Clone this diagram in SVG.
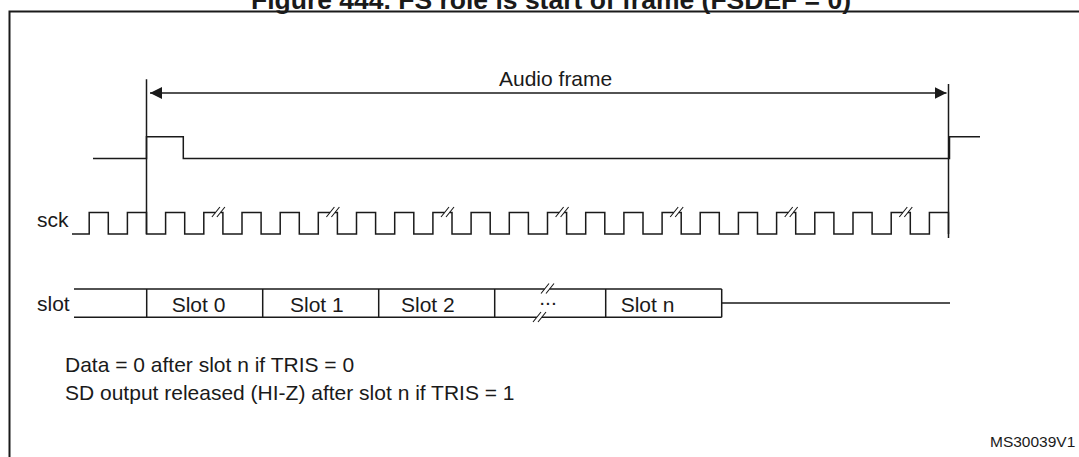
<svg xmlns="http://www.w3.org/2000/svg" width="1079" height="457" viewBox="0 0 1079 457">
<defs>
<style>
.t{font-family:"Liberation Sans",Arial,sans-serif;font-size:21px;fill:#1a1a1a}
.w{fill:none;stroke:#1a1a1a;stroke-width:1.5}
.s{fill:none;stroke:#1a1a1a;stroke-width:1.1}
</style>
<marker id="ah" viewBox="0 0 12 12" refX="12" refY="6" markerWidth="12" markerHeight="12" markerUnits="userSpaceOnUse" orient="auto-start-reverse">
<path d="M0,0 L12,6 L0,12 Z" fill="#1a1a1a"/>
</marker>
</defs>
<rect width="1079" height="457" fill="#ffffff"/>
<text x="251" y="8.5" font-family="'Liberation Sans',Arial,sans-serif" font-size="26.5" font-weight="bold" fill="#1a1a1a" textLength="600" lengthAdjust="spacingAndGlyphs">Figure 444. FS role is start of frame (FSDEF = 0)</text>
<path d="M9.5,460 V11.5 H1082" fill="none" stroke="#1a1a1a" stroke-width="2"/>

<g id="frame-markers">
<path class="w" d="M146.5,79.3 V234 M948.5,84 V238"/>
</g>
<g id="connectors">
<path class="w" d="M150,93 H946.5" marker-start="url(#ah)" marker-end="url(#ah)"/>
</g>
<g id="audio-frame-label">
<text class="t" x="499" y="86">Audio frame</text>
</g>

<g id="fs-signal">
<path class="w" d="M93,158.5 H146.5 V136.7 H183.3 V158.5 H949.5 V136.7 H980"/>
</g>

<g id="sck-signal">
<text class="t" x="37" y="227">sck</text>
<path class="w" d="M72,234 H89.2 V212.5 H108.3 V234 H127.4 V212.5 H146.5 V234 H165.6 V212.5 H184.7 V234 H203.8 V212.5 H215.5 M220.5,212.5 H222.9 V234 H242 V212.5 H261.1 V234 H280.2 V212.5 H299.3 V234 H318.3 V212.5 H330 M335,212.5 H337.4 V234 H356.5 V212.5 H375.6 V234 H394.7 V212.5 H413.8 V234 H432.9 V212.5 H444.6 M449.6,212.5 H452 V234 H471.1 V212.5 H490.2 V234 H509.3 V212.5 H528.4 V234 H547.5 V212.5 H559.2 M564.2,212.5 H566.6 V234 H585.7 V212.5 H604.8 V234 H623.9 V212.5 H643 V234 H662.1 V212.5 H673.8 M678.8,212.5 H681.2 V234 H700.2 V212.5 H719.3 V234 H738.4 V212.5 H757.5 V234 H776.6 V212.5 H788.3 M793.3,212.5 H795.7 V234 H814.8 V212.5 H833.9 V234 H853 V212.5 H872.1 V234 H891.2 V212.5 H902.9 M907.9,212.5 H910.3 V234 H929.4 V212.5 H948.5 V234"/>
<path class="s" d="M211.9,217 L219.9,207 M216.9,217 L224.9,207 M326.4,217 L334.4,207 M331.4,217 L339.4,207 M441,217 L449,207 M446,217 L454,207 M555.6,217 L563.6,207 M560.6,217 L568.6,207 M670.2,217 L678.2,207 M675.2,217 L683.2,207 M784.7,217 L792.7,207 M789.7,217 L797.7,207 M899.3,217 L907.3,207 M904.3,217 L912.3,207"/>
</g>

<g id="slot-signal">
<text class="t" x="37" y="311">slot</text>
<path class="w" d="M74,289 H544.6 M549.6,289 H721.7 M74,317.3 H536.8 M541.8,317.3 H721.7 M146.7,289 V317.3 M262.7,289 V317.3 M378.7,289 V317.3 M494.7,289 V317.3 M605.7,289 V317.3 M721.7,289 V317.3 M721.7,303 H950"/>
<path class="s" d="M541,293.5 L549,283.5 M546,293.5 L554,283.5 M533,322 L541,312 M538,322 L546,312"/>
</g>
<g id="slot-0"><text class="t" x="171.7" y="311.5">Slot 0</text></g>
<g id="slot-1"><text class="t" x="290" y="311.5">Slot 1</text></g>
<g id="slot-2"><text class="t" x="401" y="311.5">Slot 2</text></g>
<g id="slot-dots"><text class="t" x="548" y="305" text-anchor="middle">...</text></g>
<g id="slot-n"><text class="t" x="620.7" y="311.5">Slot n</text></g>

<g id="notes">
<text class="t" x="65" y="371.7">Data = 0 after slot n if TRIS = 0</text>
<text class="t" x="65" y="400">SD output released (HI-Z) after slot n if TRIS = 1</text>
</g>
<text x="990" y="446.7" font-family="'Liberation Sans',Arial,sans-serif" font-size="15.5" fill="#1a1a1a">MS30039V1</text>
</svg>
